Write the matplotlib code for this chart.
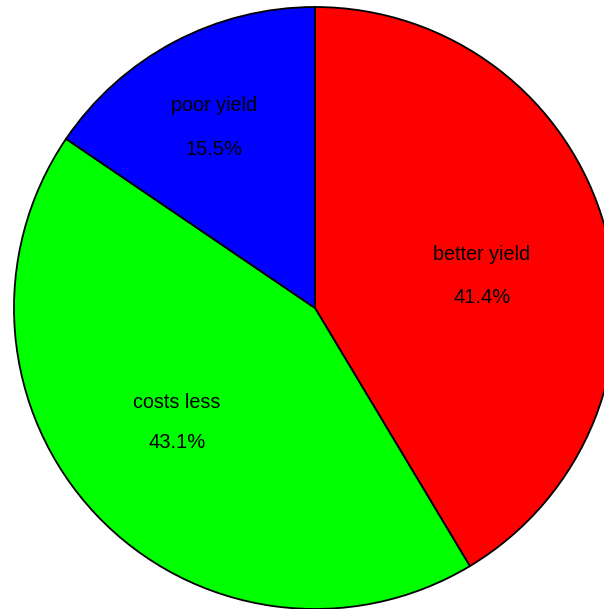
import matplotlib
matplotlib.use("Agg")
import matplotlib.pyplot as plt
import numpy as np

labels = ["better yield", "costs less", "poor yield"]
values = [41.4, 43.1, 15.5]
colors = ["#ff0000", "#00ff00", "#0000ff"]

# text baseline anchor positions (fraction of radius), name then percentage
name_pos = [(0.555, 0.160), (-0.4585, -0.332), (-0.3346, 0.653)]
pct_pos = [(0.555, 0.017), (-0.4585, -0.465), (-0.3346, 0.508)]

W, H, dpi = 604, 609, 100
fig = plt.figure(figsize=(W / dpi, H / dpi), dpi=dpi)
ax = fig.add_axes([0, 0, 1, 1])
cx, cy, R = 315, 308, 301

wedges, _ = ax.pie(values, colors=colors, startangle=90, counterclock=False,
                   radius=1.0, center=(0, 0), frame=True,
                   wedgeprops=dict(edgecolor="black", linewidth=1.3))
ax.set_xlim(-cx / R, (W - cx) / R)
ax.set_ylim(-(H - cy) / R, cy / R)
ax.set_aspect("auto")
ax.axis("off")

total = sum(values)
for lab, v, npos, ppos in zip(labels, values, name_pos, pct_pos):
    ax.text(npos[0], npos[1], lab, ha="center", va="baseline", fontsize=14.2,
            family="Liberation Sans")
    ax.text(ppos[0], ppos[1], f"{v / total * 100:.1f}%", ha="center",
            va="baseline", fontsize=14.5, family="Liberation Sans")

fig.savefig("out.png", dpi=dpi)
